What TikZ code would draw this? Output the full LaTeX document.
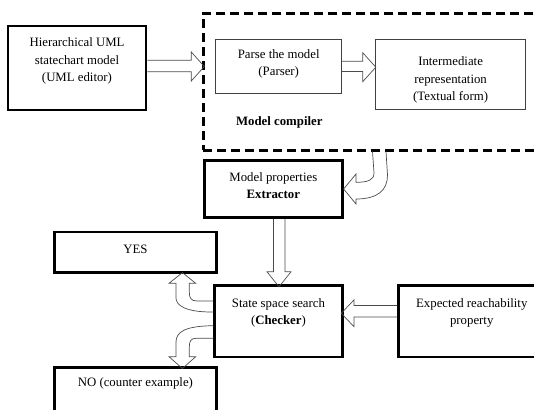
\documentclass[tikz,border=0pt]{standalone}
\usepackage{fontspec}
\setmainfont{Liberation Serif}
\usetikzlibrary{calc}

\tikzset{
  box/.style={draw, line width=2.6pt, align=center, inner sep=0pt},
  thinbox/.style={draw=black!75, line width=0.8pt, align=center, inner sep=0pt},
  frame/.style={draw, line width=3pt, dash pattern=on 9pt off 5pt, inner sep=0pt},
  barrow/.style={draw=black!70, line width=0.7pt, line join=miter},
}

\begin{document}
\begin{tikzpicture}[x=1pt, y=-1pt, font=\fontsize{12.8}{17.5}\selectfont]
  \useasboundingbox (0,0) rectangle (534,409);
  \clip (0,0) rectangle (534,409);

  % model compiler
  \node[frame, minimum width=342pt, minimum height=136.4pt] (frame) at (374,81.8) {};
  \node[thinbox, minimum width=126pt, minimum height=54.3pt, text depth=7pt] (parse) at (278.7,66.2)
    {Parse the model\\(Parser)};
  \node[thinbox, minimum width=149.8pt, minimum height=70.7pt, text height=56pt] (inter) at (450.6,74.35)
    {Intermediate\\representation\\(Textual form)};
  \node (compiler) at (279.3,122.6) {\textbf{Model compiler}};

  % boxes
  \node[box, minimum width=138pt, minimum height=84pt, text depth=16pt] (hier) at (77,68)
    {Hierarchical UML\\statechart model\\(UML editor)};
  \node[box, minimum width=137.9pt, minimum height=57.3pt, text depth=7pt] (extr) at (273.35,189)
    {Model properties\\\textbf{Extractor}};
  \node[box, minimum width=161.8pt, minimum height=40.6pt, text depth=5.4pt] (yes) at (135.4,252.3) {YES};
  \node[box, minimum width=127.7pt, minimum height=71.5pt, text depth=19pt] (check) at (278.45,321.25)
    {State space search\\(\textbf{Checker})};
  \node[box, minimum width=146.5pt, minimum height=71.5pt, text depth=19pt] (expect) at (471.75,321.25)
    {Expected reachability\\property};
  \node[box, minimum width=161.8pt, minimum height=47.5pt, text depth=17.7pt] (no) at (135.4,391.25)
    {NO (counter example)};

  % block arrows
  \draw[barrow] ($(hier.east)+(0,-7.7)$) -- ++(44,0) -- ++(0,-8.3) -- ++(13,14.5) -- ++(-13,14.5)
    -- ++(0,-9.3) -- ($(hier.east)+(0,3.7)$);
  \draw[barrow] ($(parse.east)+(0,-4.9)$) -- ++(20.7,0) -- ++(0,-8.5) -- ++(13,14.4) -- ++(-13,14.4)
    -- ++(0,-10.1) -- ($(parse.east)+(0,5.3)$);
  \draw[barrow] ($(frame.south west)+(171,0)$) -- (374,173) .. controls (374,180) and (368,182.3) .. (356,182.3)
    -- (356,174) -- (extr.east) -- (356,204) -- (356,199) .. controls (378,199) and (387.5,190) .. (387.5,175)
    -- ($(frame.south west)+(184.5,0)$);
  \draw[barrow] ($(expect.west)+(0,-15.75)$) -- ++(-43.3,0) -- ++(0,-5.5) -- ++(-12.7,13.3) -- ++(12.7,13.3)
    -- ++(0,-9.6) -- ($(expect.west)+(0,-4.25)$);
  \draw[barrow] ($(extr.south)+(0.15,0)$) -- ++(0,52.85) -- ++(-6.5,0) -- ++(12,15) -- ++(12,-15)
    -- ++(-6,0) -- ($(extr.south)+(11.65,0)$);
  \draw[barrow] ($(check.west)+(0,-20.25)$) -- (197,301) .. controls (191,301) and (189.3,298) .. (189.3,292)
    -- (189.3,283.3) -- (195.7,283.3) -- (182.4,272.6) -- (169,283.3) -- (176,283.3) -- (176,298)
    .. controls (176,305) and (185,312.3) .. ($(check.west)+(0,-9.25)$);
  \draw[barrow] ($(check.west)+(0,4.45)$) .. controls (185,326) and (176,332) .. (176,342) -- (176,356.7)
    -- (169,356.7) -- (182.4,368.5) -- (195.7,356.7) -- (189.3,356.7) -- (189.3,347)
    .. controls (189.3,341) and (191,338.3) .. (196,338.3) -- ($(check.west)+(0,17)$);
\end{tikzpicture}
\end{document}
